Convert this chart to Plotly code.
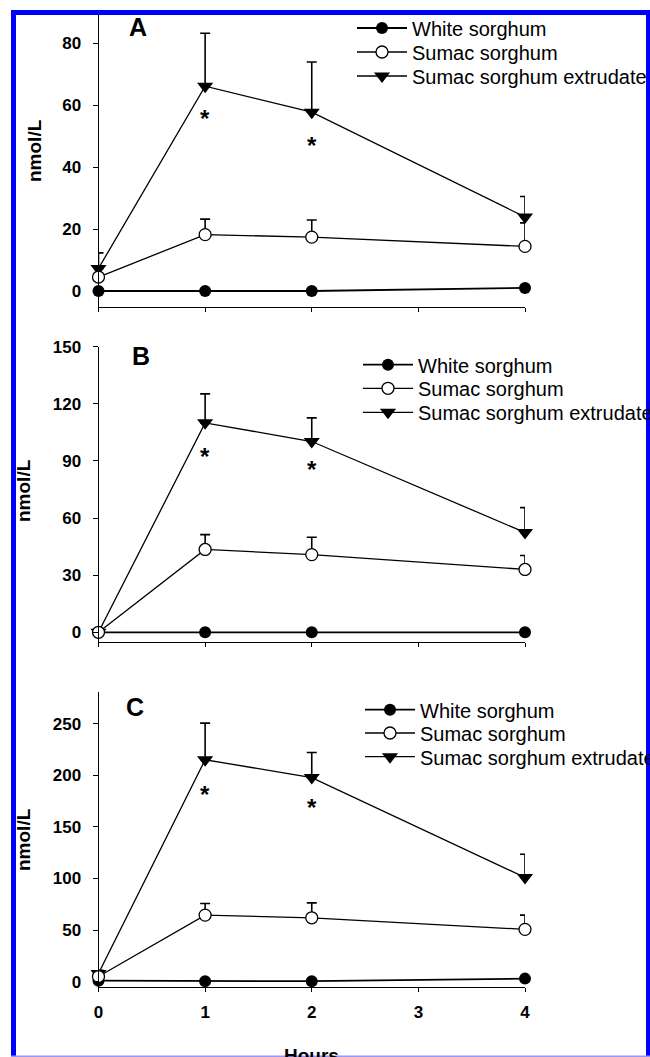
import plotly.graph_objects as go

W, H = 650, 1057

hours = [0, 1, 2, 4]
x_ticks = [0, 1, 2, 3, 4]

# Panel A
white_A = [0, 0, 0, 1]
sumac_A = [4.5, 18.2, 17.4, 14.4]
sumac_err_A = [3.0, 5.0, 5.5, 7.6]
ext_A = [7.3, 66.1, 57.7, 23.9]
ext_err_A = [5.0, 17.1, 16.2, 6.6]
star_A = [56.5, 47.8]
yticks_A = [0, 20, 40, 60, 80]

# Panel B
white_B = [0, 0, 0, 0]
sumac_B = [0, 43.5, 40.8, 33.0]
sumac_err_B = [0, 7.8, 9.1, 7.3]
ext_B = [0, 110.0, 100.2, 52.4]
ext_err_B = [0, 15.2, 12.4, 13.1]
star_B = [93.9, 86.9]
yticks_B = [0, 30, 60, 90, 120, 150]

# Panel C
white_C = [1, 0.5, 0.5, 3]
sumac_C = [5, 64.5, 61.9, 50.7]
sumac_err_C = [3, 11.3, 14.5, 13.8]
ext_C = [8, 215, 197.7, 101]
ext_err_C = [3, 35.5, 24.3, 22.5]
star_C = [184.7, 171.8]
yticks_C = [0, 50, 100, 150, 200, 250]

star_x = [1, 2]
names = ["White sorghum", "Sumac sorghum", "Sumac sorghum extrudate"]
panel_letters = ["A", "B", "C"]

FONT = "Liberation Sans, Arial, sans-serif"


def py(p):  # pixel from top -> paper y
    return 1 - p / H


def px(p):
    return p / W


panels = [
    dict(white=white_A, sumac=sumac_A, se=sumac_err_A, ext=ext_A, ee=ext_err_A,
         star=star_A, yt=yticks_A, yr=[-5.16, 89.4], dom=[py(307), py(14)],
         leg_rows=[29, 53, 77], leg_mx=380, letter=(137.5, 27), ytitle=(35, 151)),
    dict(white=white_B, sumac=sumac_B, se=sumac_err_B, ext=ext_B, ee=ext_err_B,
         star=star_B, yt=yticks_B, yr=[-5.1, 150], dom=[py(642), py(346.7)],
         leg_rows=[365.7, 389.3, 413.3], leg_mx=386, letter=(141, 355.5), ytitle=(23, 491)),
    dict(white=white_C, sumac=sumac_C, se=sumac_err_C, ext=ext_C, ee=ext_err_C,
         star=star_C, yt=yticks_C, yr=[-4.83, 280.9], dom=[py(986.7), py(691.7)],
         leg_rows=[710.7, 734, 757.7], leg_mx=388, letter=(134.5, 706.5), ytitle=(23, 840)),
]

fig = go.Figure()
annotations = []
layout = {}
xdom = [px(98.5), px(525)]
ITEMW = 50
MK_OFF = 28   # marker centre offset from legend x (px)
ROW_OFF = 20.5  # row centre offset from legend top (px)

leg_count = 0


def new_legend(mx, cy):
    global leg_count
    leg_count += 1
    key = "legend" if leg_count == 1 else "legend%d" % leg_count
    layout[key] = dict(
        x=px(mx - MK_OFF), y=py(cy - ROW_OFF), xanchor="left", yanchor="top",
        bgcolor="rgba(0,0,0,0)", borderwidth=0, tracegroupgap=0,
        font=dict(family=FONT, size=20, color="black"), itemwidth=ITEMW,
    )
    return key


for i, p in enumerate(panels):
    n = "" if i == 0 else str(i + 1)
    xa, ya = "x" + n, "y" + n
    rows = p["leg_rows"]
    lw = new_legend(p["leg_mx"], rows[0])
    ls = new_legend(p["leg_mx"], rows[1])
    le = new_legend(p["leg_mx"], rows[2])
    common = dict(xaxis=xa, yaxis=ya, cliponaxis=False, mode="lines+markers")
    # White sorghum
    fig.add_trace(go.Scatter(
        x=hours, y=p["white"], name=names[0], legend=lw,
        line=dict(color="black", width=1.8),
        marker=dict(symbol="circle", size=12, color="black"), **common))
    # Extrudate
    fig.add_trace(go.Scatter(
        x=hours, y=p["ext"], name=names[2], legend=le,
        line=dict(color="black", width=1.3),
        marker=dict(symbol="triangle-down", size=14, color="black"),
        error_y=dict(type="data", symmetric=False, array=p["ee"],
                     arrayminus=[0] * 4, color="black", thickness=1.6, width=5),
        **common))
    # Sumac
    fig.add_trace(go.Scatter(
        x=hours, y=p["sumac"], name=names[1], legend=ls,
        line=dict(color="black", width=1.3),
        marker=dict(symbol="circle", size=12, color="white",
                    line=dict(color="black", width=1.3)),
        error_y=dict(type="data", symmetric=False, array=p["se"],
                     arrayminus=[0] * 4, color="black", thickness=1.6, width=5),
        **common))

    layout["xaxis" + n] = dict(
        domain=xdom, anchor=ya, range=[0, 4], tickvals=x_ticks,
        ticktext=[str(t) for t in x_ticks], showticklabels=(i == 2),
        showline=True, linecolor="black", linewidth=1.2, ticks="outside",
        ticklen=4, tickwidth=1, tickcolor="black", showgrid=False, zeroline=False,
        tickfont=dict(family=FONT, size=17, color="black", weight="bold"),
        ticklabelstandoff=6,
    )
    layout["yaxis" + n] = dict(
        domain=p["dom"], anchor=xa, range=p["yr"], tickvals=p["yt"],
        showline=True, linecolor="black", linewidth=1, ticks="outside",
        ticklen=5, tickwidth=1, tickcolor="black", showgrid=False, zeroline=False,
        tickfont=dict(family=FONT, size=17, color="black", weight="bold"),
        ticklabelstandoff=8,
    )
    for sx, sy in zip(star_x, p["star"]):
        annotations.append(dict(x=sx, y=sy, xref=xa, yref=ya, text="*", showarrow=False,
                                font=dict(family=FONT, size=24, color="black", weight="bold"),
                                xanchor="center", yanchor="middle", yshift=-3))
    annotations.append(dict(x=px(p["letter"][0]), y=py(p["letter"][1]), xref="paper", yref="paper",
                            text=panel_letters[i], showarrow=False,
                            font=dict(family=FONT, size=25, color="black", weight="bold"),
                            xanchor="center", yanchor="middle"))
    annotations.append(dict(x=px(p["ytitle"][0]), y=py(p["ytitle"][1]), xref="paper", yref="paper",
                            text="nmol/L", showarrow=False, textangle=-90,
                            font=dict(family=FONT, size=19, color="black", weight="bold"),
                            xanchor="center", yanchor="middle"))

annotations.append(dict(x=px(311), y=py(1043), xref="paper", yref="paper", text="Hours",
                        showarrow=False, xanchor="center", yanchor="top",
                        font=dict(family=FONT, size=19, color="black", weight="bold")))

blue = "rgb(0,0,250)"
shapes = [
    dict(type="rect", xref="paper", yref="paper", x0=px(11), x1=px(650), y0=py(15), y1=py(10),
         fillcolor=blue, line=dict(width=0), layer="above"),
    dict(type="rect", xref="paper", yref="paper", x0=px(11), x1=px(16), y0=py(1057), y1=py(10),
         fillcolor=blue, line=dict(width=0), layer="above"),
    dict(type="rect", xref="paper", yref="paper", x0=px(646), x1=px(650), y0=py(1057), y1=py(10),
         fillcolor=blue, line=dict(width=0), layer="above"),
    dict(type="rect", xref="paper", yref="paper", x0=px(11), x1=px(650), y0=py(1057), y1=py(1055.5),
         fillcolor="rgb(150,150,255)", line=dict(width=0), layer="above"),
]

fig.update_layout(
    width=W, height=H, margin=dict(l=0, r=0, t=0, b=0, autoexpand=False),
    paper_bgcolor="white", plot_bgcolor="white", showlegend=True,
    annotations=annotations, shapes=shapes,
    font=dict(family=FONT, color="black"),
    **layout,
)

fig.write_html("out.html")
